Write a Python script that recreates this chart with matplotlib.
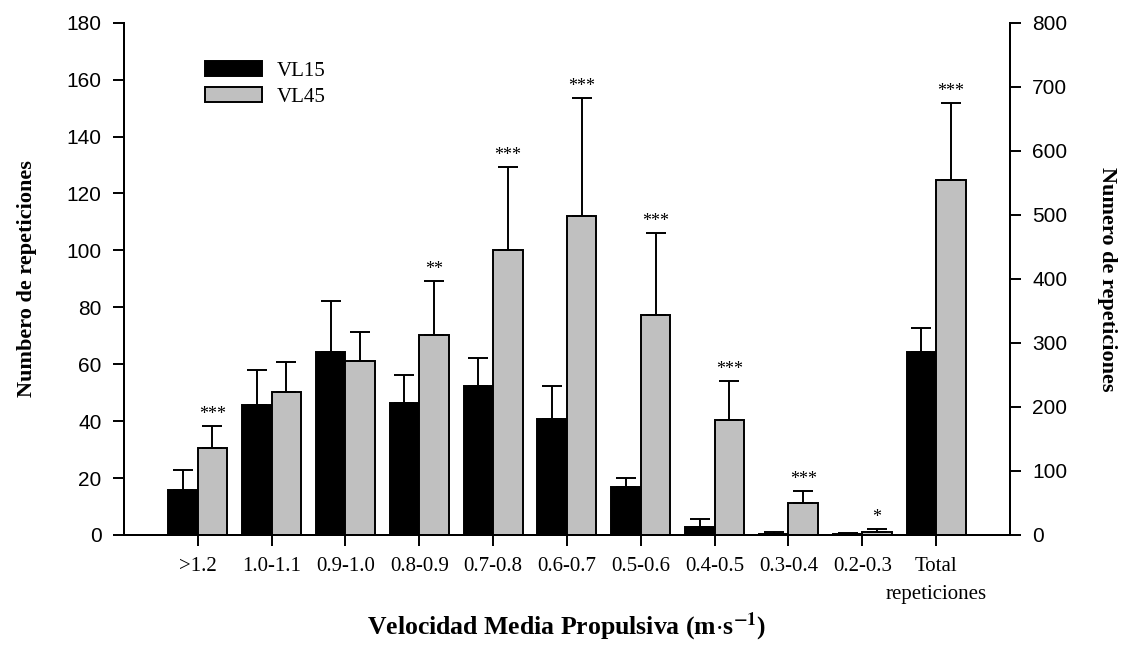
import numpy as np
import matplotlib.pyplot as plt

# Datos: repeticiones medias (+DE) por rango de velocidad
categorias = [">1.2", "1.0-1.1", "0.9-1.0", "0.8-0.9", "0.7-0.8", "0.6-0.7",
              "0.5-0.6", "0.4-0.5", "0.3-0.4", "0.2-0.3", "Total"]
vl15_media = [15.8, 45.6, 64.3, 46.2, 52.3, 40.9, 17.0, 2.7, 0.3, 0.4]
vl15_de = [7.0, 12.2, 17.9, 9.9, 10.0, 11.5, 2.9, 2.9, 0.7, 0.2]
vl45_media = [30.4, 50.2, 61.3, 70.2, 100.2, 112.0, 77.3, 40.4, 11.3, 0.9]
vl45_de = [8.0, 10.5, 9.9, 19.2, 29.0, 41.7, 28.8, 13.6, 4.2, 1.3]
total_media = [285, 555]   # VL15, VL45 (eje derecho)
total_de = [39, 120]
signif = ["***", "", "", "**", "***", "***", "***", "***", "***", "*", "***"]

serif = "Liberation Serif"
sans = "Liberation Sans"
gris = "#c0c0c0"
w = 0.4
plt.rcParams["mathtext.fontset"] = "stix"

fig = plt.figure(figsize=(11.26, 6.48), dpi=100)
ax = fig.add_axes([0.110, 0.1744, 0.787, 0.7906])
ax2 = ax.twinx()

x = np.arange(len(vl15_media))
err_kw = dict(ecolor="black", elinewidth=1.4, capsize=7, capthick=1.4)
ax.bar(x - w / 2, vl15_media, w, color="black", edgecolor="black", linewidth=1.4,
       yerr=[np.zeros(len(x)), vl15_de], error_kw=err_kw, label="VL15")
ax.bar(x + w / 2, vl45_media, w, color=gris, edgecolor="black", linewidth=1.4,
       yerr=[np.zeros(len(x)), vl45_de], error_kw=err_kw, label="VL45")

# barras del total sobre el eje derecho
xt = len(x)
ax2.bar([xt - w / 2], [total_media[0]], w, color="black", edgecolor="black", linewidth=1.4,
        yerr=[[0], [total_de[0]]], error_kw=err_kw)
ax2.bar([xt + w / 2], [total_media[1]], w, color=gris, edgecolor="black", linewidth=1.4,
        yerr=[[0], [total_de[1]]], error_kw=err_kw)

# asteriscos de significacion encima de VL45
for i, s in enumerate(signif):
    if not s:
        continue
    if i < len(x):
        tgt, y = ax, vl45_media[i] + vl45_de[i]
    else:
        tgt, y = ax2, total_media[1] + total_de[1]
    tgt.annotate(s, (i + w / 2, y), xytext=(0, 5), textcoords="offset points",
                 ha="center", va="baseline", fontsize=13, family=serif)

ax.set_xlim(-1, 11)
ax.set_ylim(0, 180)
ax.set_yticks(np.arange(0, 181, 20))
ax2.set_ylim(0, 800)
ax2.set_yticks(np.arange(0, 801, 100))
ax.set_xticks(np.arange(len(categorias)))
ax.set_xticklabels(categorias, family=serif, fontsize=15)
# segunda linea de la etiqueta del total
ax.annotate("repeticiones", xy=(xt, 0), xycoords=("data", "axes fraction"),
            xytext=(0, -36), textcoords="offset points", ha="center", va="top",
            family=serif, fontsize=15)

for a in (ax, ax2):
    a.spines["top"].set_visible(False)
    for sp in ("left", "right", "bottom"):
        a.spines[sp].set_linewidth(1.4)
    a.tick_params(width=1.4, length=8, direction="out")
ax.tick_params(axis="y", labelsize=15, pad=8)
ax2.tick_params(axis="y", labelsize=15, pad=8)
ax.tick_params(axis="x", pad=8)
for lab in ax.get_yticklabels() + ax2.get_yticklabels():
    lab.set_family(sans)

ax.set_ylabel("Numbero de repeticiones", family=serif, fontweight="bold",
              fontsize=16, labelpad=21)
ax2.set_ylabel("Numero de repeticiones", family=serif, fontweight="bold",
               fontsize=16, rotation=-90, labelpad=36)
ax.set_xlabel(r"Velocidad Media Propulsiva (m$\cdot$s$^{\mathbf{-1}}$)",
              family=serif, fontweight="bold", fontsize=18.5, labelpad=25)

ax.legend(loc="upper left", bbox_to_anchor=(0.0914, 0.925), frameon=False,
          prop={"family": serif, "size": 15}, handlelength=2.75, handleheight=0.7,
          handletextpad=0.7, labelspacing=0.3, borderpad=0, borderaxespad=0)

fig.savefig("out.png", dpi=100)
